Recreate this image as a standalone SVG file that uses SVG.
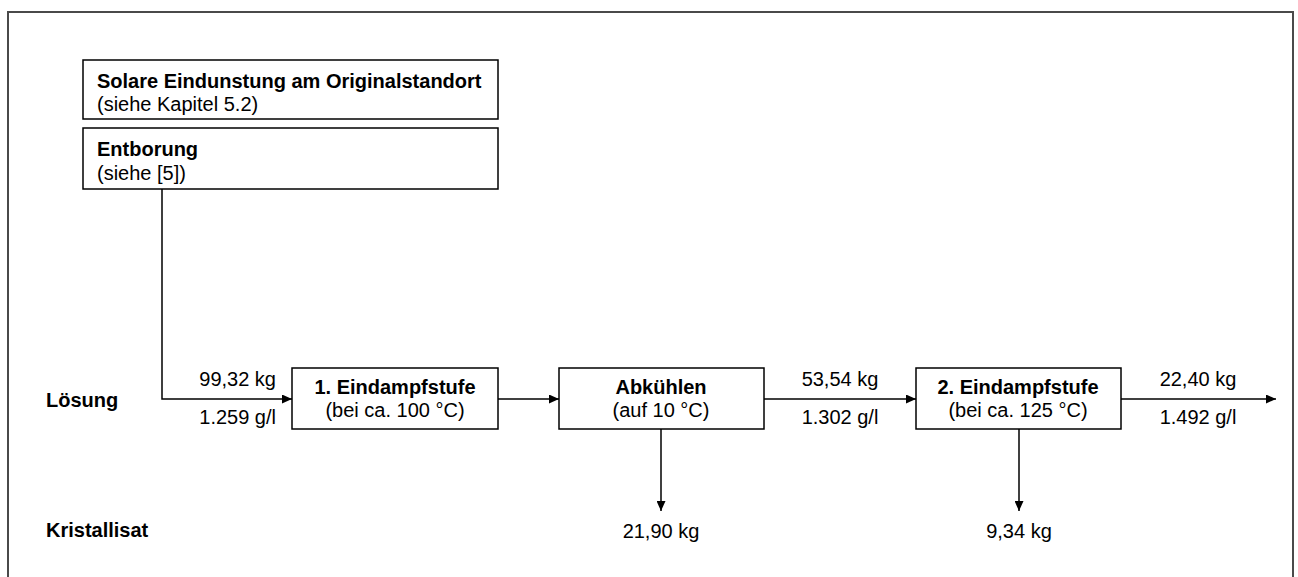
<svg xmlns="http://www.w3.org/2000/svg" width="1298" height="577" viewBox="0 0 1298 577">
<defs>
<marker id="ah" markerWidth="10" markerHeight="9" refX="10" refY="4.5" orient="auto" markerUnits="userSpaceOnUse">
<path d="M0,0 L10,4.5 L0,9 Z" fill="#000"/>
</marker>
<style>
text{font-family:"Liberation Sans",Arial,sans-serif;font-size:20px;fill:#000}
.b{font-weight:bold}
.m{text-anchor:middle}
.e{text-anchor:end}
.box{fill:#fff;stroke:#000;stroke-width:1.5}
.con{fill:none;stroke:#000;stroke-width:1.5}
</style>
</defs>
<rect x="0" y="0" width="1298" height="577" fill="#fff"/>
<path d="M8,577 V12 H1293 V577" fill="none" stroke="#4a4a4a" stroke-width="2"/>
<g id="solar">
<rect class="box" x="83" y="60" width="415" height="59"/>
<text class="b" x="97" y="88">Solare Eindunstung am Originalstandort</text>
<text x="97" y="111">(siehe Kapitel 5.2)</text>
</g>
<g id="entborung">
<rect class="box" x="83" y="128" width="415" height="61"/>
<text class="b" x="97" y="156">Entborung</text>
<text x="97" y="180">(siehe [5])</text>
</g>
<g id="stufe1">
<rect class="box" x="292" y="368" width="206" height="61"/>
<text class="b m" x="395" y="394">1. Eindampfstufe</text>
<text class="m" x="395" y="417">(bei ca. 100 °C)</text>
</g>
<g id="abkuehlen">
<rect class="box" x="559" y="368" width="205" height="61"/>
<text class="b m" x="661" y="394">Abkühlen</text>
<text class="m" x="661" y="417">(auf 10 °C)</text>
</g>
<g id="stufe2">
<rect class="box" x="916" y="368" width="205" height="61"/>
<text class="b m" x="1018" y="394">2. Eindampfstufe</text>
<text class="m" x="1018" y="417">(bei ca. 125 °C)</text>
</g>
<g id="rowlabels">
<text class="b" x="46" y="407">Lösung</text>
<text class="b" x="46" y="537">Kristallisat</text>
</g>
<g id="connectors">
<path class="con" d="M162,189 V399 H292" marker-end="url(#ah)"/>
<path class="con" d="M498,399 H559" marker-end="url(#ah)"/>
<path class="con" d="M764,399 H916" marker-end="url(#ah)"/>
<path class="con" d="M1121,399 H1276" marker-end="url(#ah)"/>
<path class="con" d="M661,429 V511" marker-end="url(#ah)"/>
<path class="con" d="M1019,429 V511" marker-end="url(#ah)"/>
</g>
<g id="labels">
<text class="e" x="276" y="386">99,32 kg</text>
<text class="e" x="276" y="424">1.259 g/l</text>
<text class="m" x="840" y="386">53,54 kg</text>
<text class="m" x="840" y="424">1.302 g/l</text>
<text class="m" x="1198" y="386">22,40 kg</text>
<text class="m" x="1198" y="424">1.492 g/l</text>
<text class="m" x="661" y="538">21,90 kg</text>
<text class="m" x="1019" y="538">9,34 kg</text>
</g>
</svg>
